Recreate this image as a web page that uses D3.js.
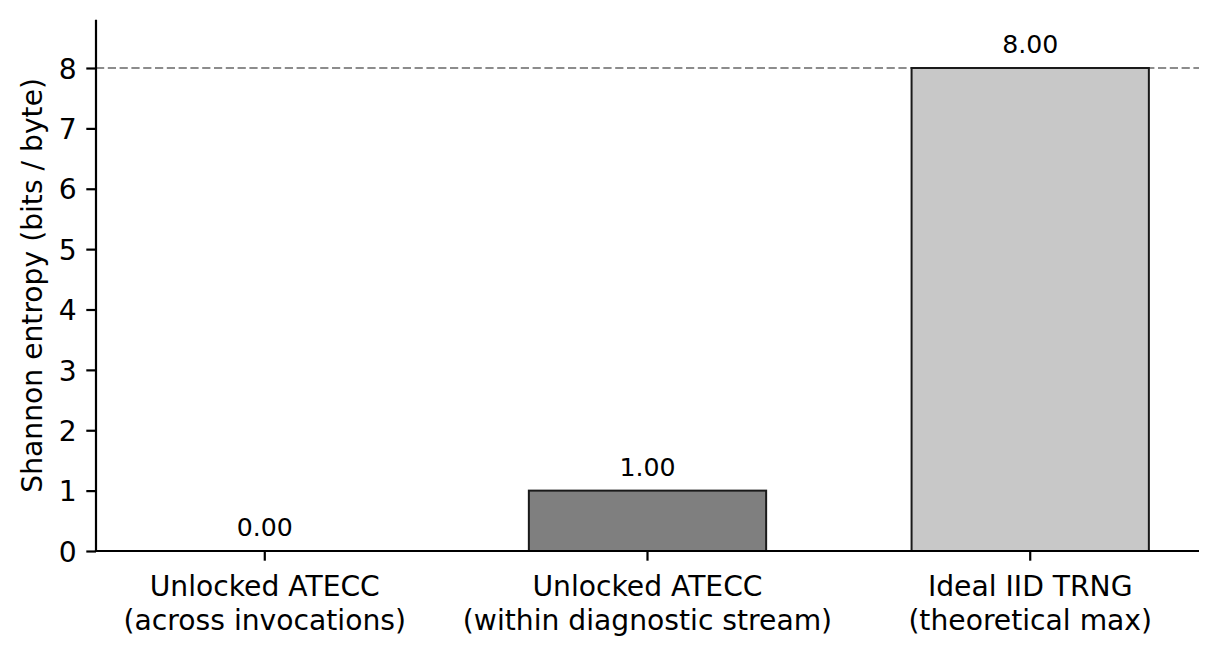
<!DOCTYPE html>
<html>
<head>
<meta charset="utf-8">
<script src="https://cdn.jsdelivr.net/npm/d3@7/dist/d3.min.js"></script>
<style>
  html, body { margin: 0; padding: 0; background: #ffffff; }
  svg { display: block; }
  text { font-family: "DejaVu Sans", sans-serif; fill: #000; }
</style>
</head>
<body>
<svg id="chart" width="1219" height="658"></svg>
<script>
// ---- data ----
const categories = [
  ["Unlocked ATECC", "(across invocations)"],
  ["Unlocked ATECC", "(within diagnostic stream)"],
  ["Ideal IID TRNG", "(theoretical max)"]
];
const values = [0.00, 1.00, 8.00];
const barColors = ["#333333", "#7f7f7f", "#c8c8c8"];
const yTicks = [0, 1, 2, 3, 4, 5, 6, 7, 8];
const referenceLine = 8;
const yLabel = "Shannon entropy (bits / byte)";

// ---- layout ----
const W = 1219, H = 658;
const mLeft = 96, mRight = 1199, mTop = 19.7, mBottom = 551;
const tickLen = 9.7, tickPad = 9.7, lw = 2.2;
const fontMain = "28.2px", fontValue = "25.2px";

const svg = d3.select("#chart");
svg.append("rect").attr("width", W).attr("height", H).attr("fill", "#fff");

const x = d3.scaleBand()
  .domain(d3.range(categories.length))
  .range([mLeft, mRight])
  .paddingInner(0.38)
  .paddingOuter(0.131);

const y = d3.scaleLinear().domain([0, 8.8]).range([mBottom, mTop]);

// reference dashed line
svg.append("line")
  .attr("x1", mLeft).attr("x2", mRight)
  .attr("y1", y(referenceLine)).attr("y2", y(referenceLine))
  .attr("stroke", "#8c8c8c")
  .attr("stroke-width", 2.0)
  .attr("stroke-dasharray", "8.2,3.6");

// bars
svg.append("g").selectAll("rect")
  .data(values)
  .join("rect")
  .attr("x", (d, i) => x(i))
  .attr("width", x.bandwidth())
  .attr("y", d => y(d))
  .attr("height", d => y(0) - y(d))
  .attr("fill", (d, i) => barColors[i])
  .attr("stroke", "#1a1a1a")
  .attr("stroke-width", 2);

// value labels
svg.append("g").selectAll("text")
  .data(values)
  .join("text")
  .attr("x", (d, i) => x(i) + x.bandwidth() / 2)
  .attr("y", d => y(d) - 15)
  .attr("text-anchor", "middle")
  .style("font-size", fontValue)
  .text(d => d.toFixed(2));

// y axis
const yAxis = svg.append("g")
  .attr("transform", `translate(${mLeft},0)`)
  .call(d3.axisLeft(y).tickValues(yTicks).tickSize(tickLen).tickPadding(tickPad).tickFormat(d3.format("d")));
yAxis.select(".domain").remove();
yAxis.selectAll(".tick line").attr("stroke", "#000").attr("stroke-width", lw);
yAxis.selectAll(".tick text")
  .style("font-size", fontMain)
  .style("font-family", "DejaVu Sans")
  .attr("dy", "0.36em");

// x axis
const xAxis = svg.append("g")
  .attr("transform", `translate(0,${mBottom})`)
  .call(d3.axisBottom(x).tickSize(tickLen).tickPadding(tickPad).tickFormat(""));
xAxis.select(".domain").remove();
xAxis.selectAll(".tick line").attr("stroke", "#000").attr("stroke-width", lw);
xAxis.selectAll(".tick text").remove();

// x tick labels (two lines)
const xl = svg.append("g").selectAll("text")
  .data(categories)
  .join("text")
  .attr("x", (d, i) => x(i) + x.bandwidth() / 2)
  .attr("y", 595.5)
  .attr("text-anchor", "middle")
  .style("font-size", fontMain);
xl.selectAll("tspan")
  .data(d => d)
  .join("tspan")
  .attr("x", function () { return d3.select(this.parentNode).attr("x"); })
  .attr("dy", (d, j) => j === 0 ? 0 : 34)
  .text(d => d);

// spines
svg.append("line").attr("x1", mLeft).attr("x2", mLeft).attr("y1", mTop).attr("y2", mBottom + lw / 2)
  .attr("stroke", "#000").attr("stroke-width", lw);
svg.append("line").attr("x1", mLeft - lw / 2).attr("x2", mRight).attr("y1", mBottom).attr("y2", mBottom)
  .attr("stroke", "#000").attr("stroke-width", lw);

// y label
svg.append("text")
  .attr("transform", `translate(42,${(mTop + mBottom) / 2}) rotate(-90)`)
  .attr("text-anchor", "middle")
  .style("font-size", fontMain)
  .text(yLabel);
</script>
</body>
</html>
